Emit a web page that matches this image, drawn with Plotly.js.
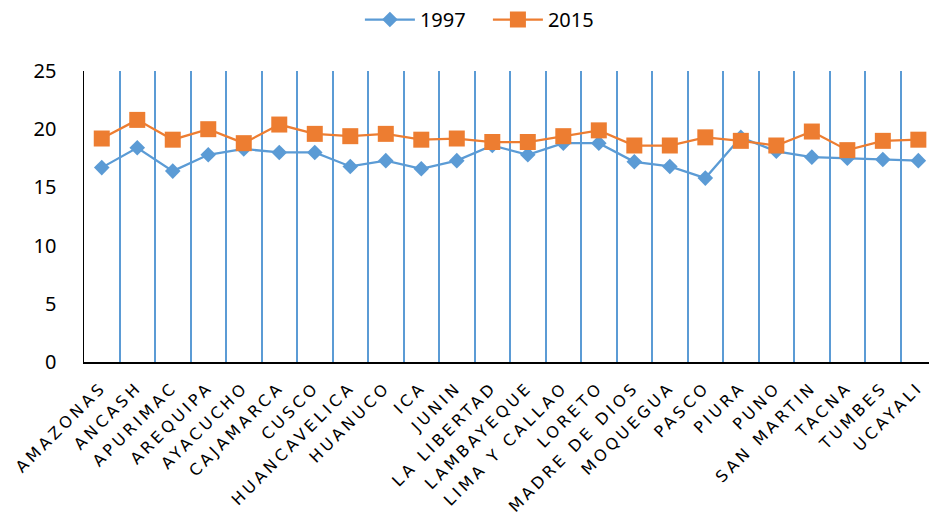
<!DOCTYPE html>
<html>
<head>
<meta charset="utf-8">
<script src="https://cdn.plot.ly/plotly-3.0.1.min.js"></script>
<style>
html,body{margin:0;padding:0;overflow:hidden;background:#fff;}
#chart .xtick text{letter-spacing:3.5px;}
</style>
</head>
<body>
<div id="chart" style="width:929px;height:513px;"></div>
<script>
const categories = ["AMAZONAS","ANCASH","APURIMAC","AREQUIPA","AYACUCHO","CAJAMARCA","CUSCO","HUANCAVELICA","HUANUCO","ICA","JUNIN","LA LIBERTAD","LAMBAYEQUE","LIMA Y CALLAO","LORETO","MADRE DE DIOS","MOQUEGUA","PASCO","PIURA","PUNO","SAN MARTIN","TACNA","TUMBES","UCAYALI"];
const values1997 = [16.7,18.4,16.4,17.8,18.3,18.0,18.0,16.8,17.3,16.6,17.3,18.6,17.8,18.8,18.8,17.2,16.8,15.8,19.3,18.1,17.6,17.5,17.4,17.3];
const values2015 = [19.2,20.8,19.1,20.0,18.8,20.4,19.6,19.4,19.6,19.1,19.2,18.9,18.9,19.4,19.9,18.6,18.6,19.3,19.0,18.6,19.8,18.2,19.0,19.1];
const yTicks = [0,5,10,15,20,25];

const traces = [
  {x: categories, y: values1997, name: "1997", type: "scatter", mode: "lines+markers",
   line: {color: "#5B9BD5", width: 2.25},
   marker: {symbol: "diamond", size: 12, color: "#5B9BD5"}},
  {x: categories, y: values2015, name: "2015", type: "scatter", mode: "lines+markers",
   line: {color: "#ED7D31", width: 2.25},
   marker: {symbol: "square", size: 16, color: "#ED7D31"}}
];

const layout = {
  width: 929, height: 513,
  margin: {l: 84, r: 0, t: 71, b: 151, pad: 0},
  paper_bgcolor: "#fff", plot_bgcolor: "#fff",
  showlegend: true,
  legend: {orientation: "h", x: 0.478, xanchor: "center", y: 1.179, yanchor: "middle",
           itemwidth: 50, entrywidth: 63,
           font: {family: "Noto Sans, sans-serif", size: 20, color: "#000"}},
  xaxis: {
    type: "category", range: [-0.5, 23.3],
    tickson: "boundaries", showgrid: true, gridcolor: "#5B9BD5", gridwidth: 2,
    showline: true, linecolor: "#000", linewidth: 1.5,
    ticks: "", tickangle: -45, ticklabelstandoff: 8,
    tickfont: {family: "DejaVu Sans, sans-serif", size: 16, color: "#000"},
    fixedrange: true
  },
  yaxis: {
    range: [0, 25], tickvals: yTicks, ticktext: yTicks.map(String),
    showgrid: false, zeroline: false,
    showline: true, linecolor: "#000", linewidth: 1.5,
    ticks: "", ticklabelstandoff: 22,
    tickfont: {family: "Noto Sans, sans-serif", size: 20, color: "#000"},
    fixedrange: true
  }
};

Plotly.newPlot("chart", traces, layout, {displayModeBar: false, staticPlot: true});
</script>
</body>
</html>
